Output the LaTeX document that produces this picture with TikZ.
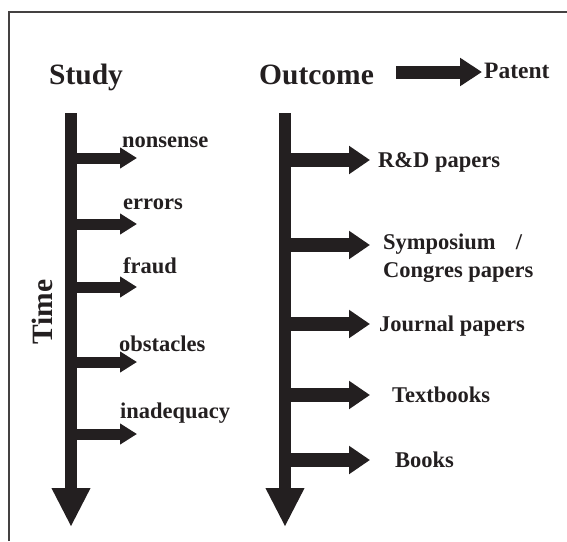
\documentclass[tikz,border=0pt]{standalone}
\usepackage{fontspec}
\setmainfont{Liberation Serif}
\usepackage{tikz}
\usetikzlibrary{arrows.meta}
\definecolor{ink}{HTML}{231F20}
\tikzset{
    spine/.style={
           draw=ink, line width=12pt,
           -{Triangle[length=39pt,width=36pt]},
           },
}
\tikzset{
    study/.style={
           draw=ink, line width=11pt,
           -{Triangle[length=17pt,width=20pt]},
           },
}
\tikzset{
    outc/.style={
           draw=ink, line width=14pt,
           -{Triangle[length=21pt,width=27pt]},
           },
}
\tikzset{
    title/.style={
           inner sep=0pt, text=ink,
           font=\bfseries\fontsize{29.5}{34}\selectfont,
           },
}
\tikzset{
    lbl/.style={
           inner sep=0pt, text=ink,
           font=\bfseries\fontsize{22.5}{28}\selectfont,
           },
}

\begin{document}
\begin{tikzpicture}[x=1pt,y=-1pt]
\useasboundingbox (0,0) rectangle (567,541);
\draw[line width=1.4pt,draw=ink!85] (9,541) -- (9,12) -- (567,12);
% headings
\node[title,anchor=base west](Study) at (49,84){Study};
\node[title,anchor=base west](Outcome) at (259,84){Outcome};
\node[lbl,font=\bfseries\fontsize{23.5}{28}\selectfont,anchor=base west](Patent) at (484,78){Patent};
\node[title,rotate=90](Time) at (42,312){Time};
\coordinate (Outr) at (396,72);
\path (Outr) edge[draw=ink,line width=13pt,-{Triangle[length=22pt,width=27pt]}] ([xshift=-2pt]Outr -| Patent.west);
% the two time axes
\coordinate (Ltop) at (71,113);
\coordinate (Lbot) at (71,527);
\coordinate (Rtop) at (285,113);
\coordinate (Rbot) at (285,527);
\path (Ltop) edge[spine] (Lbot);
\path (Rtop) edge[spine] (Rbot);
% study side
\node[lbl,anchor=base west](nonsense) at (122,147){nonsense};
\node[lbl,anchor=base west](errors) at (123,209){errors};
\node[lbl,anchor=base west](fraud) at (123,273){fraud};
\node[lbl,anchor=base west](obstacles) at (119,351){obstacles};
\node[lbl,anchor=base west](inadequacy) at (120,418){inadequacy};
\coordinate (nonsenseT) at (137,158);
\coordinate (errorsT) at (137,224);
\coordinate (fraudT) at (137,287);
\coordinate (obstaclesT) at (137,362);
\coordinate (inadequacyT) at (137,434);
\path (Ltop |- nonsenseT) edge[study] (nonsenseT);
\path (Ltop |- errorsT) edge[study] (errorsT);
\path (Ltop |- fraudT) edge[study] (fraudT);
\path (Ltop |- obstaclesT) edge[study] (obstaclesT);
\path (Ltop |- inadequacyT) edge[study] (inadequacyT);
% outcome side
\node[lbl,anchor=base west](RD) at (378,167){R\&D papers};
\node[lbl,anchor=west,align=left](Symp) at (383,258){Symposium\hspace{0.9em}/\\Congres papers};
\node[lbl,anchor=base west](Journal) at (379,331){Journal papers};
\node[lbl,anchor=base west](Textbooks) at (392,402){Textbooks};
\node[lbl,anchor=base west](Books) at (395,467){Books};
\coordinate (RDT) at (370,160);
\coordinate (SympT) at (370,245);
\coordinate (JournalT) at (370,324);
\coordinate (TextbooksT) at (370,395);
\coordinate (BooksT) at (370,460);
\path (Rtop |- RDT) edge[outc] (RDT);
\path (Rtop |- SympT) edge[outc] (SympT);
\path (Rtop |- JournalT) edge[outc] (JournalT);
\path (Rtop |- TextbooksT) edge[outc] (TextbooksT);
\path (Rtop |- BooksT) edge[outc] (BooksT);
\end{tikzpicture}
\end{document}
